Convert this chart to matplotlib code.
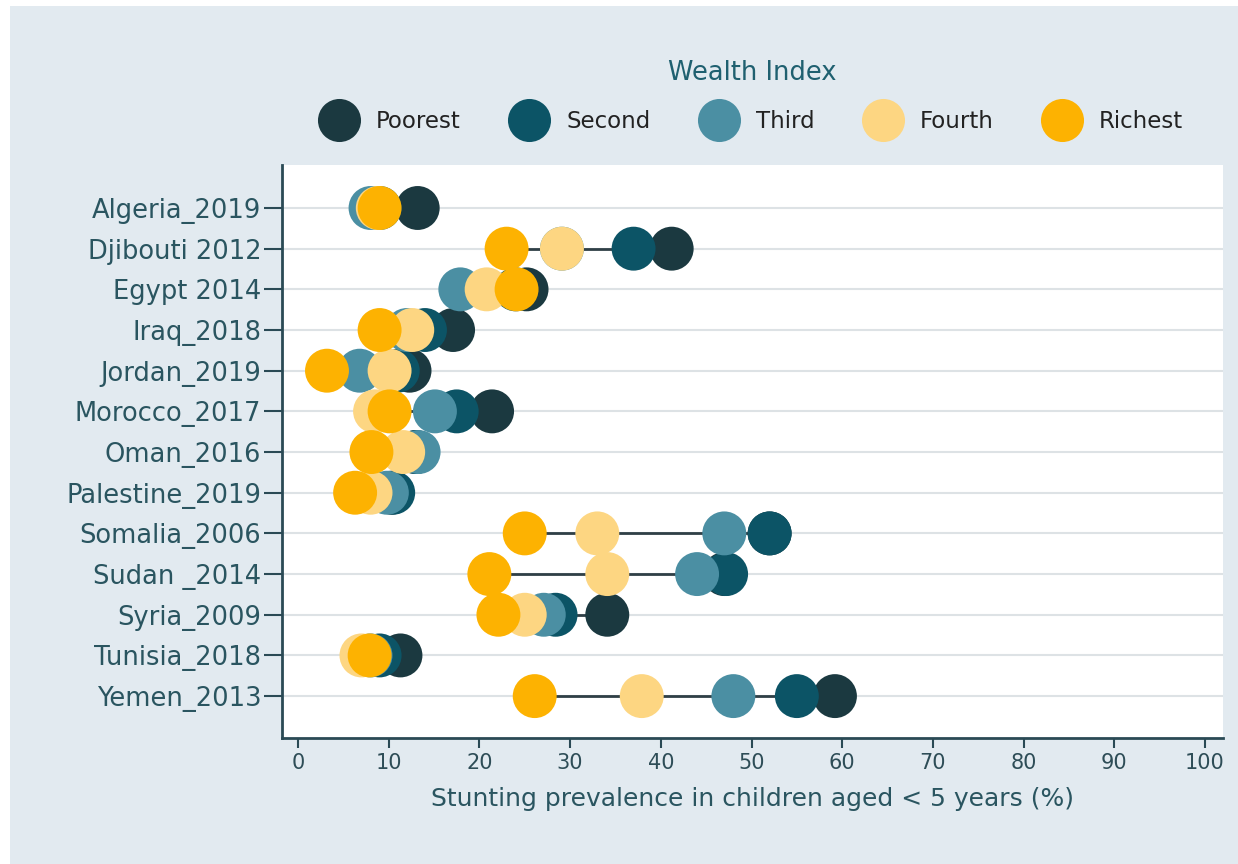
import numpy as np
import matplotlib

matplotlib.use('Agg')
from matplotlib import pyplot as plt
from matplotlib.patches import Rectangle
from matplotlib.lines import Line2D

countries = ['Algeria_2019', 'Djibouti 2012', 'Egypt 2014', 'Iraq_2018', 'Jordan_2019',
             'Morocco_2017', 'Oman_2016', 'Palestine_2019', 'Somalia_2006', 'Sudan _2014',
             'Syria_2009', 'Tunisia_2018', 'Yemen_2013']

# stunting prevalence (%) by wealth quintile
poorest = [13.2, 41.2, 25.2, 17.1, 12.3, 21.4, 13.0, 10.3, 52.0, 47.0, 34.1, 11.3, 59.2]
second = [9.0, 37.0, 24.0, 14.0, 11.0, 17.5, 13.0, 10.5, 52.0, 47.2, 28.4, 9.0, 55.0]
third = [8.0, 29.1, 17.9, 12.0, 6.8, 15.1, 13.3, 9.8, 47.0, 44.0, 27.1, 8.0, 48.0]
fourth = [8.8, 29.1, 20.8, 12.6, 10.1, 8.5, 11.6, 8.0, 33.0, 34.1, 25.0, 7.0, 37.9]
richest = [9.0, 23.0, 24.1, 9.0, 3.2, 10.1, 8.1, 6.3, 25.0, 21.1, 22.1, 7.9, 26.1]

groups = ['Poorest', 'Second', 'Third', 'Fourth', 'Richest']
colors = ['#1b3940', '#0c5466', '#4b8fa3', '#fdd682', '#fdb201']

bg = '#e2eaf0'
ink = '#2a4a55'

fig = plt.figure(figsize=(12.38, 8.64), dpi=100, facecolor='white')
fig.patches.append(Rectangle((10 / 1238, 0), 1, 1 - 6 / 864, transform=fig.transFigure,
                             facecolor=bg, edgecolor='none', zorder=-10))

ax = fig.add_axes([282 / 1238, 1 - 738 / 864, (1223 - 282) / 1238, (738 - 165) / 864])
ax.set_facecolor('white')

y = np.arange(len(countries))
values = [poorest, second, third, fourth, richest]
arr = np.array(values)

# gridlines and min-max range line for every row
for yi in y:
    ax.axhline(yi, color='#dde2e5', lw=1.5, zorder=0)
ax.hlines(y, arr.min(axis=0), arr.max(axis=0), color='#2f3f46', lw=2, zorder=1)

for k, (name, vals, c) in enumerate(zip(groups, values, colors)):
    ax.scatter(vals, y, s=1000, color=c, edgecolors='none', zorder=2 + k, label=name)

ax.set_xlim(-1.76, 101.98)
ax.set_ylim(len(countries) - 1 + 1.03, -1.057)
ax.set_xticks(np.arange(0, 101, 10))
ax.set_yticks(y)
ax.set_yticklabels(countries)

for side in ['top', 'right']:
    ax.spines[side].set_visible(False)
for side in ['left', 'bottom']:
    ax.spines[side].set_color(ink)
    ax.spines[side].set_linewidth(2)

ax.tick_params(axis='y', length=13, width=1.5, color=ink, labelsize=18.5,
               labelcolor='#2a5560', pad=2)
ax.tick_params(axis='x', length=7, width=1.5, color=ink, labelsize=15,
               labelcolor='#2e4d57', pad=4)
ax.set_xlabel('Stunting prevalence in children aged < 5 years (%)', fontsize=18,
              color='#2a5560', labelpad=10)

# legend title and entries laid out above the plot
fig.text(752 / 1238, 1 - 73 / 864, 'Wealth Index', ha='center', va='center',
         fontsize=18.5, color='#1f6070')
handles = [Line2D([], [], marker='o', ls='none', markersize=31, markerfacecolor=c,
                  markeredgecolor='none') for c in colors]
leg = fig.legend(handles, groups, loc='center', bbox_to_anchor=(752 / 1238, 1 - 122 / 864),
                 ncol=5, frameon=False, fontsize=16.5, handletextpad=0.8,
                 columnspacing=2.2, handlelength=1.6)
for t in leg.get_texts():
    t.set_color('#222222')

plt.savefig('out.png', dpi=100, facecolor=fig.get_facecolor())
